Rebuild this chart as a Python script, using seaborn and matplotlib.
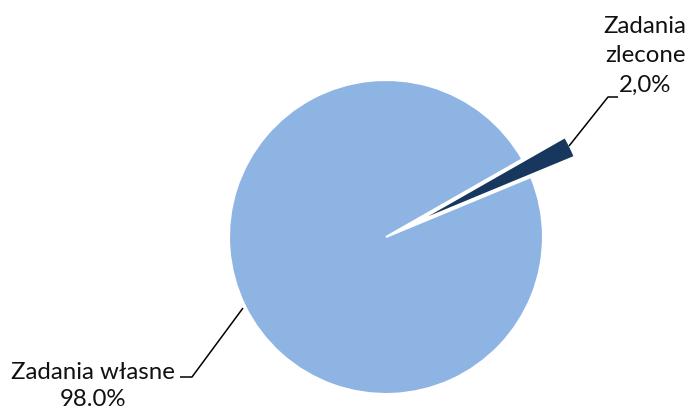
import matplotlib
matplotlib.use("Agg")
import matplotlib.pyplot as plt
import seaborn as sns

# Data
categories = ["Zadania własne", "Zadania zlecone"]
values = [98.0, 2.0]
label_texts = ["Zadania własne\n98.0%", "Zadania\nzlecone\n2,0%"]
colors = ["#8EB4E3", "#17375E"]

sns.set_theme(style="white")
plt.rcParams["font.family"] = ["Lato", "DejaVu Sans"]

W, H = 691, 409
fig = plt.figure(figsize=(W / 100, H / 100), dpi=100)
ax = fig.add_axes([0, 0, 1, 1])

CX, CY, R = 386, 237, 157


def p(px, py):
    return (px - CX) / R, (CY - py) / R


wedges, _ = ax.pie(values, colors=colors, startangle=29.7, counterclock=True,
                   explode=[0, 0.3], radius=1,
                   wedgeprops=dict(edgecolor="white", linewidth=1.5))
wedges[1].set_linewidth(0)

ax.set_xlim(-CX / R, (W - CX) / R)
ax.set_ylim(-(H - CY) / R, CY / R)
ax.set_aspect("auto")
ax.axis("off")

# Leader lines
for pts in ([(569, 146), (608, 97), (618, 97)],
            [(243, 308), (192, 377), (180, 377)]):
    xs, ys = zip(*[p(*q) for q in pts])
    ax.plot(xs, ys, color="black", lw=1.1, solid_capstyle="butt")

# Labels
x, y = p(645, 56)
ax.text(x, y, label_texts[1], ha="center", va="center", fontsize=17.3,
        color="#111111", linespacing=1.5)
x, y = p(93, 386)
ax.text(x, y, label_texts[0], ha="center", va="center", fontsize=17.3,
        color="#111111", linespacing=1.33)

fig.savefig("out.png", dpi=100)
